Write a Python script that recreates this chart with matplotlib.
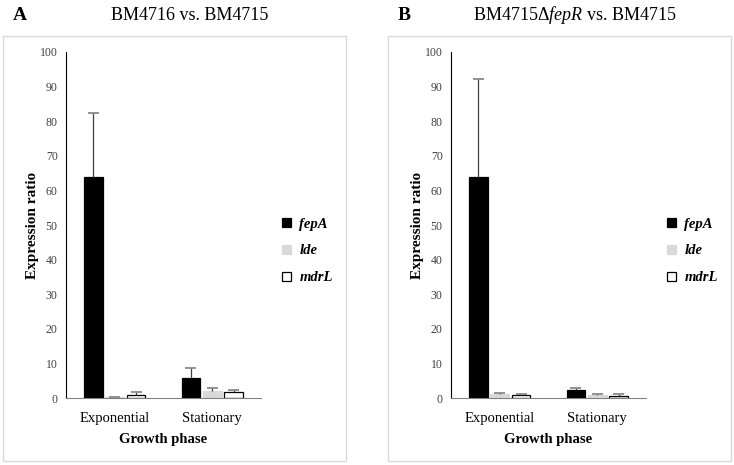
import matplotlib
matplotlib.use("Agg")
import matplotlib.pyplot as plt
from matplotlib.patches import Rectangle
import numpy as np

plt.rcParams["font.family"] = ["Liberation Serif", "DejaVu Serif"]
plt.rcParams["mathtext.fontset"] = "custom"
plt.rcParams["mathtext.rm"] = "Liberation Serif"
plt.rcParams["mathtext.it"] = "Liberation Serif:italic"

phases = ["Exponential", "Stationary"]
genes = ["fepA", "lde", "mdrL"]

# panel A: BM4716 vs. BM4715
a_fepA = [64.0, 5.8]
a_lde = [0.3, 2.0]
a_mdrL = [1.0, 1.8]
a_fepA_err = [18.5, 2.8]
a_lde_err = [0.0, 1.0]
a_mdrL_err = [0.8, 0.5]

# panel B: BM4715 delta-fepR vs. BM4715
b_fepA = [64.0, 2.3]
b_lde = [1.3, 1.0]
b_mdrL = [0.8, 0.7]
b_fepA_err = [28.3, 0.5]
b_lde_err = [0.2, 0.2]
b_mdrL_err = [0.3, 0.5]

W, H = 734, 465
fig = plt.figure(figsize=(W / 100, H / 100), dpi=100)

face = ["black", "#d9d9d9", "white"]
edge = ["black", "#d9d9d9", "black"]


def px(x0, y0, w, h):
    # pixel box (top-left origin) -> figure fraction
    return [x0 / W, 1 - (y0 + h) / H, w / W, h / H]


def panel(box_x, axis_x, letter, title_parts, vals, errs):
    # light grey frame around each panel
    fig.patches.append(Rectangle((box_x / W, 1 - 461 / H), 343 / W, 425 / H,
                                 transform=fig.transFigure, fill=False,
                                 edgecolor="#d9d9d9", lw=1))
    ax = fig.add_axes(px(axis_x, 52, 195, 346))
    x = np.arange(len(phases))
    bw = 0.19
    step = 0.22
    for i, (v, e) in enumerate(zip(vals, errs)):
        xs = x + (i - 1) * step
        ax.bar(xs, v, width=bw, color=face[i], edgecolor=edge[i], lw=0.9,
               label=genes[i], zorder=2)
        top = np.array(v) + np.array(e)
        ax.vlines(xs, v, top, color="#404040", lw=0.9, zorder=3)
        ax.hlines(top, xs - 0.055, xs + 0.055, color="#808080", lw=1.2, zorder=3)
    ax.set_xlim(-0.5, 1.5)
    ax.set_ylim(0, 100)
    ax.set_yticks(range(0, 101, 10))
    ax.tick_params(axis="y", length=0, labelsize=8.5, pad=6, labelcolor="#404040")
    ax.tick_params(axis="x", length=0, labelsize=10.5, pad=10)
    ax.set_xticks(x)
    ax.set_xticklabels(phases)
    for s in ["top", "right"]:
        ax.spines[s].set_visible(False)
    ax.spines["left"].set_color("black")
    ax.spines["bottom"].set_color("#808080")
    ax.set_xlabel("Growth phase", fontsize=10.5, fontweight="bold", labelpad=6)
    ax.set_ylabel("Expression ratio", fontsize=11, fontweight="bold")
    ax.yaxis.set_label_coords(-0.14, 0.5)
    ax.legend(loc="center left", bbox_to_anchor=(1.04, 0.425), frameon=False,
              prop={"style": "italic", "weight": "bold", "size": 10.5},
              handlelength=0.6, handleheight=0.6, handletextpad=0.6,
              labelspacing=0.95)
    fig.text((box_x + 10) / W, 1 - 15 / H, letter, fontsize=14,
             fontweight="bold", va="center")
    fig.text((box_x + 187) / W, 1 - 15 / H, title_parts, fontsize=13,
             ha="center", va="center")
    return ax


panel(3, 66, "A", "BM4716 vs. BM4715",
      [a_fepA, a_lde, a_mdrL], [a_fepA_err, a_lde_err, a_mdrL_err])
panel(388, 451, "B", r"BM4715$\Delta\mathit{fepR}$ vs. BM4715",
      [b_fepA, b_lde, b_mdrL], [b_fepA_err, b_lde_err, b_mdrL_err])

fig.savefig("out.png", dpi=100)
